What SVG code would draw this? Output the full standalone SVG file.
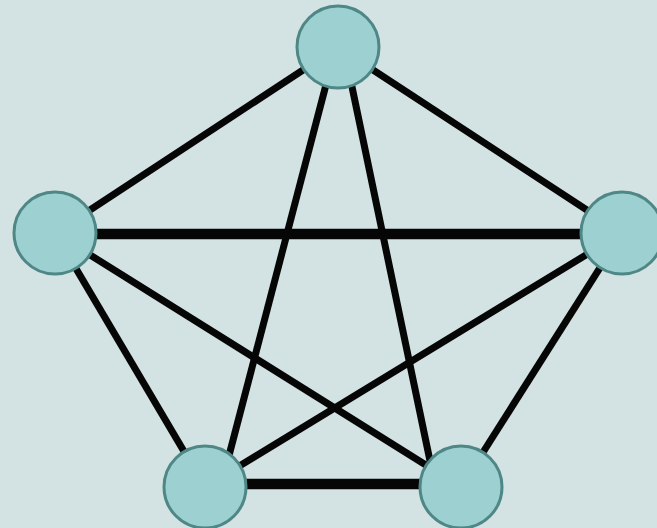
<svg xmlns="http://www.w3.org/2000/svg" width="657" height="528" viewBox="0 0 657 528">
<style>
.e{stroke:#060606;stroke-width:7;stroke-linecap:butt}
.h{stroke-width:10.5}
.n{fill:#9dd0d0;stroke:#4f8787;stroke-width:3}
</style>
<rect width="657" height="528" fill="#d3e2e2"/>
<g id="edges">
<line class="e" x1="338" y1="47" x2="55" y2="233"/>
<line class="e" x1="338" y1="47" x2="622" y2="233"/>
<line class="e" x1="333" y1="58" x2="226" y2="467"/>
<line class="e" x1="346" y1="58" x2="434" y2="480"/>
<line class="e h" x1="55" y1="234" x2="622" y2="234"/>
<line class="e" x1="55" y1="233" x2="205" y2="487"/>
<line class="e" x1="55" y1="233" x2="461" y2="487"/>
<line class="e" x1="622" y1="233" x2="205" y2="487"/>
<line class="e" x1="622" y1="233" x2="461" y2="487"/>
<line class="e h" x1="205" y1="484" x2="461" y2="484"/>
</g>
<g id="n-top"><circle class="n" cx="338" cy="47" r="41"/></g>
<g id="n-left"><circle class="n" cx="55" cy="233" r="41"/></g>
<g id="n-right"><circle class="n" cx="622" cy="233" r="41"/></g>
<g id="n-bl"><circle class="n" cx="205" cy="487" r="41"/></g>
<g id="n-br"><circle class="n" cx="461" cy="487" r="41"/></g>
</svg>
